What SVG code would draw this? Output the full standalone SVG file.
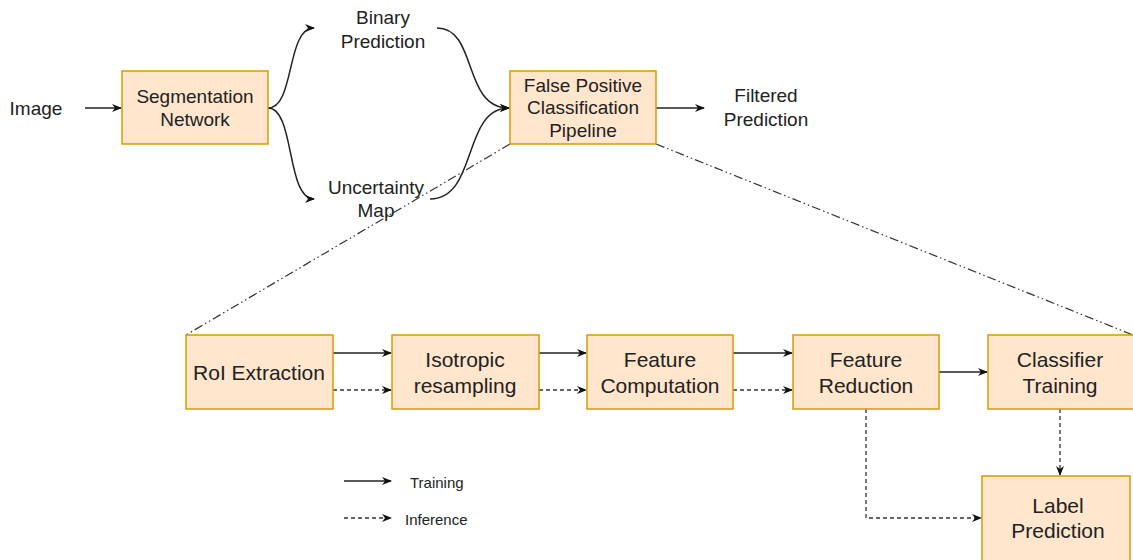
<svg xmlns="http://www.w3.org/2000/svg" width="1133" height="560" viewBox="0 0 1133 560">
<style>
.box{fill:#ffe6cc;stroke:#d79b00;stroke-width:1.5}
.t{font-family:"Liberation Sans",Arial,sans-serif;font-size:19px;fill:#222;text-anchor:middle;dominant-baseline:central}
.tl{font-family:"Liberation Sans",Arial,sans-serif;font-size:21px;fill:#222;text-anchor:middle;dominant-baseline:central}
.lg{font-family:"Liberation Sans",Arial,sans-serif;font-size:15px;fill:#222;dominant-baseline:central}
.e{fill:none;stroke:#222;stroke-width:1.5}
.d{fill:none;stroke:#333;stroke-width:1.3;stroke-dasharray:4 3}
.dd{fill:none;stroke:#333;stroke-width:1.2;stroke-dasharray:9 3 1.5 3 1.5 3}
</style>
<defs>
<marker id="ah" markerWidth="10" markerHeight="10" refX="9" refY="5" orient="auto" markerUnits="userSpaceOnUse">
<path d="M0,1 L10,5 L0,9 L3,5 z" fill="#111"/>
</marker>
</defs>
<rect width="1133" height="560" fill="#fff"/>
<g id="connectors">
<path class="e" d="M85,108 L121,108" marker-end="url(#ah)"/>
<path class="e" d="M268,108 C295,108 286,28 314,28" marker-end="url(#ah)"/>
<path class="e" d="M268,108 C295,108 286,199 314,199" marker-end="url(#ah)"/>
<path class="e" d="M437,28 C478,28 462,108 509,108" marker-end="url(#ah)"/>
<path class="e" d="M430,199 C478,199 462,108 509,108" marker-end="url(#ah)"/>
<path class="e" d="M656,108 L704,108" marker-end="url(#ah)"/>
<path class="dd" d="M510,144 L186,335"/>
<path class="dd" d="M656,144 L1133,335"/>
<path class="e" d="M333,353 L391,353" marker-end="url(#ah)"/>
<path class="d" d="M333,390 L391,390" marker-end="url(#ah)"/>
<path class="e" d="M539,353 L586,353" marker-end="url(#ah)"/>
<path class="d" d="M539,390 L586,390" marker-end="url(#ah)"/>
<path class="e" d="M733,353 L792,353" marker-end="url(#ah)"/>
<path class="d" d="M733,390 L792,390" marker-end="url(#ah)"/>
<path class="e" d="M939,372 L987,372" marker-end="url(#ah)"/>
<path class="d" d="M866,409 L866,518 L981,518" marker-end="url(#ah)"/>
<path class="d" d="M1060,409 L1060,475" marker-end="url(#ah)"/>
<path class="e" d="M344,481 L391,481" marker-end="url(#ah)"/>
<path class="d" d="M344,518 L391,518" marker-end="url(#ah)"/>
</g>
<g id="image"><text class="t" x="36" y="108">Image</text></g>
<g id="seg"><rect class="box" x="122" y="71" width="146" height="73"/><text class="t" x="195" y="96">Segmentation</text><text class="t" x="195" y="119">Network</text></g>
<g id="binary"><text class="t" x="383" y="17">Binary</text><text class="t" x="383" y="41">Prediction</text></g>
<g id="uncert"><text class="t" x="376" y="187">Uncertainty</text><text class="t" x="376" y="210">Map</text></g>
<g id="fp"><rect class="box" x="510" y="71" width="146" height="73"/><text class="t" x="583" y="85">False Positive</text><text class="t" x="583" y="107">Classification</text><text class="t" x="583" y="130">Pipeline</text></g>
<g id="filtered"><text class="t" x="766" y="95">Filtered</text><text class="t" x="766" y="119">Prediction</text></g>
<g id="roi"><rect class="box" x="186" y="335" width="147" height="74"/><text class="tl" x="259" y="372">RoI Extraction</text></g>
<g id="iso"><rect class="box" x="392" y="335" width="147" height="74"/><text class="tl" x="465" y="359">Isotropic</text><text class="tl" x="465" y="385">resampling</text></g>
<g id="fc"><rect class="box" x="587" y="335" width="146" height="74"/><text class="tl" x="660" y="359">Feature</text><text class="tl" x="660" y="385">Computation</text></g>
<g id="fr"><rect class="box" x="793" y="335" width="146" height="74"/><text class="tl" x="866" y="359">Feature</text><text class="tl" x="866" y="385">Reduction</text></g>
<g id="ct"><rect class="box" x="988" y="335" width="146" height="74"/><text class="tl" x="1060" y="359">Classifier</text><text class="tl" x="1060" y="385">Training</text></g>
<g id="lp"><rect class="box" x="982" y="476" width="148" height="90"/><text class="tl" x="1058" y="505">Label</text><text class="tl" x="1058" y="530">Prediction</text></g>
<g id="legend"><text class="lg" x="410" y="482">Training</text><text class="lg" x="405" y="519">Inference</text></g>
</svg>
